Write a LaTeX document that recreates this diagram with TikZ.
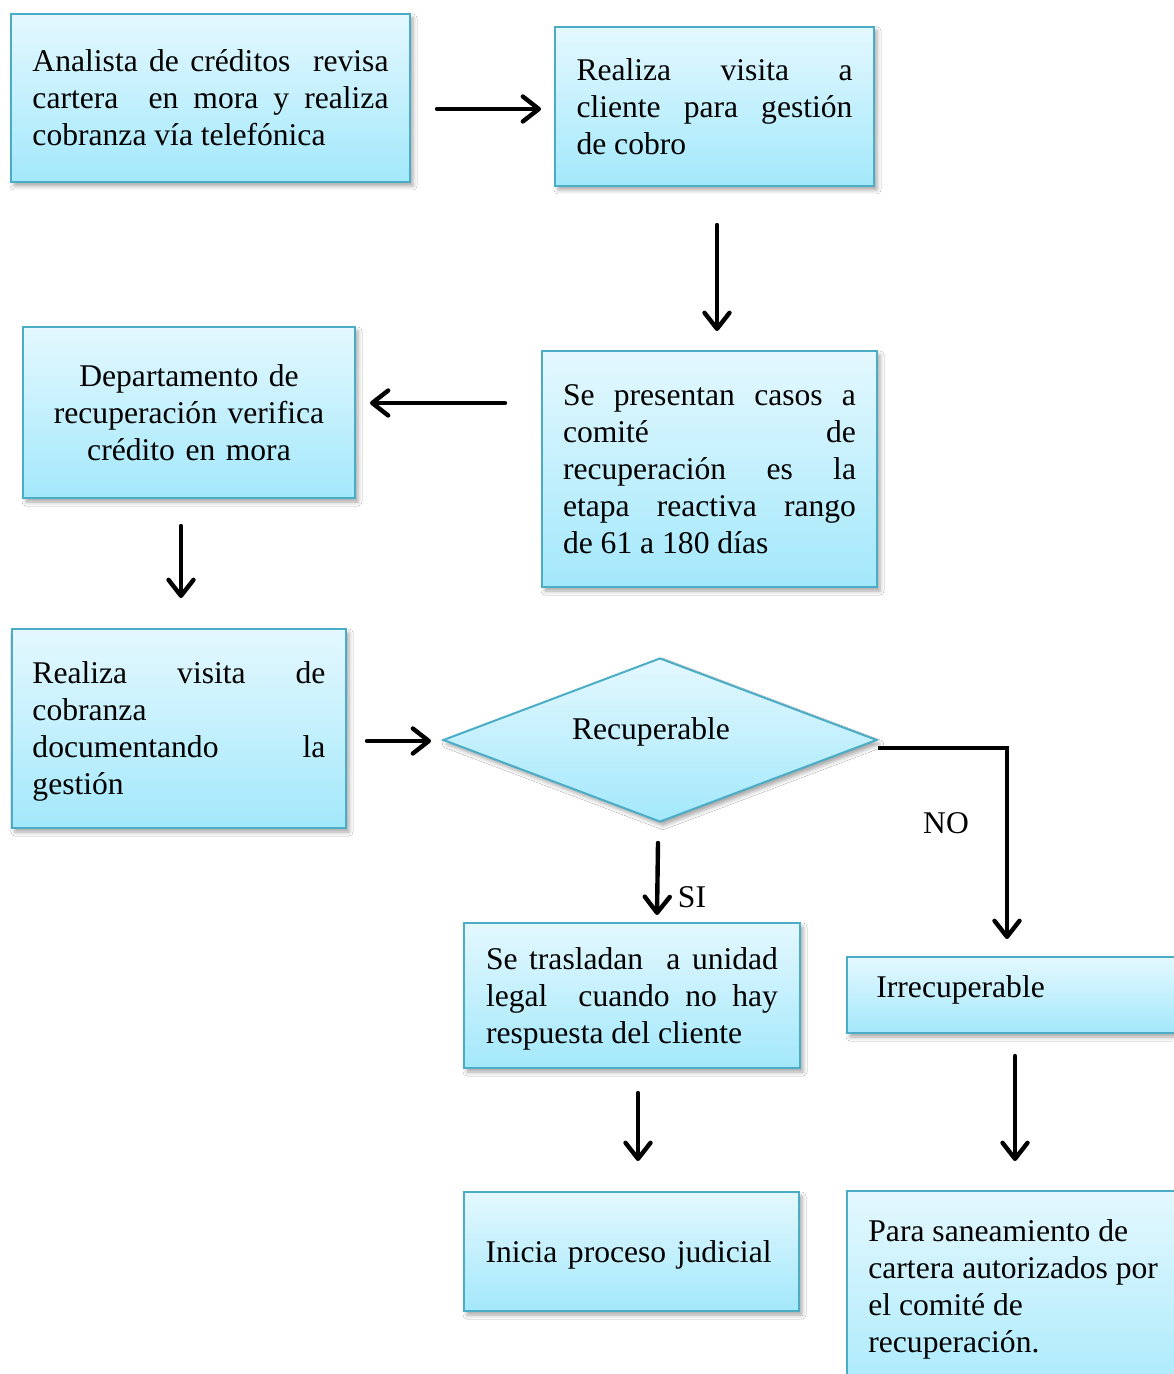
\documentclass[tikz,border=0pt]{standalone}
\usepackage{fontspec}
\setmainfont{Liberation Serif}
\usetikzlibrary{shapes.geometric,arrows.meta,calc,shadows.blur}
\definecolor{edgeblue}{RGB}{75,172,198}
\definecolor{boxtop}{RGB}{228,248,254}
\definecolor{boxbot}{RGB}{163,232,251}
% invisible rule that evens out the first-line height of a box text
\newcommand\firstlinerule{\rule{0pt}{14.4pt}}
\begin{document}
\begin{tikzpicture}[x=0.5pt,y=-0.5pt,
  txt/.style={font={\fontsize{15.8pt}{18.5pt}\selectfont\parindent=0pt\hyphenpenalty=10000\exhyphenpenalty=10000\relax}},
  box/.style={txt, draw=edgeblue, line width=1pt, top color=boxtop, bottom color=boxbot, inner sep=0pt,
    blur shadow={shadow xshift=1.5pt, shadow yshift=-2pt, shadow blur radius=2pt, shadow opacity=35}},
  jbox/.style={box, align=justify},
  arr/.style={line width=2.2pt, line cap=round, -{Straight Barb[length=8pt,width=12.5pt,line cap=round,line join=round]}},
]
\useasboundingbox[fill=white] (0,0) rectangle (1173,1374);

% process boxes
\node[jbox, minimum width=199.5pt, minimum height=84pt, text width=178pt] (b1) at (210.5,98)
  {Analista de créditos \ revisa\linebreak cartera \ en mora y realiza\linebreak cobranza vía telefónica\par};
\node[jbox, minimum width=159.5pt, minimum height=79.5pt, text width=138pt] (b2) at (714.5,106.5)
  {Realiza visita a\linebreak cliente para gestión\linebreak de cobro\par};
\node[jbox, minimum width=167.5pt, minimum height=118pt, text width=146.5pt] (b3) at (709.5,469)
  {Se presentan casos a\linebreak comité de\linebreak recuperación es la\linebreak etapa reactiva rango\linebreak de 61 a 180 días\par};
\node[box, minimum width=166pt, minimum height=85.5pt, text width=150pt, align=center] (b4) at (189,412.5)
  {Departamento de\\recuperación verifica\\crédito en mora};
\node[jbox, minimum width=167pt, minimum height=99.5pt, text width=146.5pt] (b5) at (179,728.5)
  {\firstlinerule Realiza visita de\linebreak cobranza\hfill\linebreak documentando la\linebreak gestión\par};
\node[box, shape=diamond, minimum width=217pt, minimum height=82pt] (dia) at (660,740) {};
\node[txt, anchor=base] (diatext) at (651,739) {Recuperable};
\node[jbox, minimum width=168pt, minimum height=72.5pt, text width=146pt] (b6) at (632,995.5)
  {\firstlinerule Se trasladan \ a unidad\linebreak legal \ cuando no hay\linebreak respuesta del cliente\par};
\node[box, minimum width=167.5pt, minimum height=59.5pt, text width=146pt, align=left] (b7) at (631.5,1251.5)
  {\firstlinerule Inicia proceso judicial};
\node[box, minimum width=176pt, minimum height=38pt] (b8) at (1023,995) {};
\node[txt, anchor=base west, inner sep=0pt] (b8text) at (876,997) {Irrecuperable};
\node[box, minimum width=176pt, minimum height=114.5pt] (b9) at (1023,1305.5) {};
\node[txt, anchor=north west, inner sep=0pt, align=left] (b9text) at (868,1219)
  {Para saneamiento de\\cartera autorizados por\\el comité de\\recuperación.};

% connectors
\draw[arr] ($(b1.east)+(26,11)$) -- ($(b2.west)+(-13,2.5)$);
\draw[arr] ($(b2.south)+(2.5,38)$) -- ($(b3.north)+(7.5,-19)$);
\draw[arr] ($(b3.west)+(-36,-66)$) -- ($(b4.east)+(14,-9.5)$);
\draw[arr] ($(b4.south)+(-8,27)$) -- ($(b5.north)+(2,-30)$);
\draw[arr] ($(b5.east)+(20,12.5)$) -- ($(dia.west)+(-11,1)$);
\draw[arr] ($(dia.south)+(-2,20)$) -- ($(b6.north)+(25,-7)$);
\draw[arr, line cap=butt] ($(dia.east)+(0,8)$) -| ($(b8.north)+(-16,-17)$);
\draw[arr] ($(b6.south)+(6,24)$) -- ($(b7.north)+(6.5,-30)$);
\draw[arr] ($(b8.south)+(-8,22)$) -- ($(b9.north)+(-8,-29)$);

% branch labels
\node[txt, anchor=base] (si) at (692,907) {SI};
\node[txt, anchor=base] (no) at (946,833) {NO};
\end{tikzpicture}
\end{document}
